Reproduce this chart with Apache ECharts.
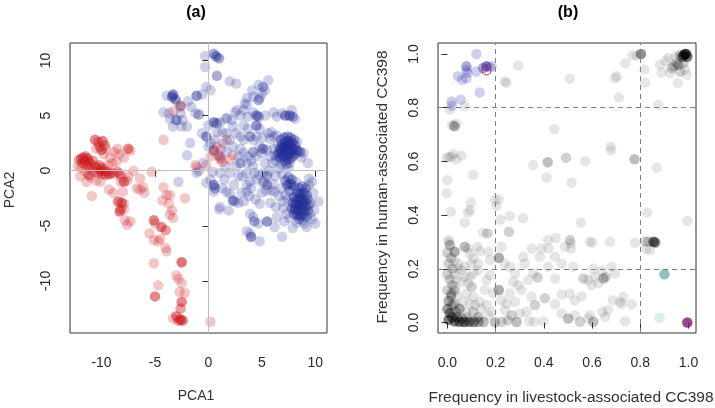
<!DOCTYPE html>
<html><head><meta charset="utf-8">
<script src="https://cdn.jsdelivr.net/npm/echarts@6/dist/echarts.min.js"></script>
<style>html,body{margin:0;padding:0;background:#fff}#c{width:715px;height:408px}</style>
</head><body><div id="c"></div>
<script>
// ---- data: [x, y, overlapCount] ----
var ticksAx = [-10, -5, 0, 5, 10];
var ticksAy = [-10, -5, 0, 5, 10];
var ticksB = [0, 0.2, 0.4, 0.6, 0.8, 1.0];
var refLinesB = [0.2, 0.8];

var redA = [
[-12.1,1.0,2],[-11.9,1.1,2],[-11.7,1.2,3],[-11.5,1.3,2],[-11.3,1.1,3],[-11.6,0.9,3],[-11.2,0.8,2],[-11.8,0.7,2],[-11.4,0.5,2],[-11.0,0.6,2],[-10.8,0.9,2],[-11.1,0.3,2],[-10.6,0.4,2],[-10.4,0.2,2],[-10.2,0.5,2],[-10.0,0.3,2],[-9.8,0.1,2],[-9.5,-0.1,2],[-9.3,-0.3,3],[-9.6,-0.4,2],[-9.9,-0.3,2],[-10.3,-0.2,2],[-10.7,-0.1,1],[-11.2,-0.4,3],[-11.0,-0.6,1],[-11.5,-0.1,1],[-12.2,0.4,1],[-11.9,0.3,1],[-9.0,-0.2,2],[-8.8,-0.3,1],[-8.5,-0.1,2],[-8.1,-0.6,1],[-7.9,-1.0,3],[-7.6,-0.9,1],[-10.6,2.8,3],[-10.3,2.6,2],[-9.9,2.7,3],[-9.7,2.3,2],[-10.2,2.2,2],[-10.0,1.9,3],[-9.6,2.0,1],[-10.5,2.0,1],[-9.8,1.5,1],[-9.2,1.2,1],[-8.8,1.7,1],[-8.5,2.0,1],[-8.3,1.5,1],[-7.5,2.0,3],[-7.3,1.8,1],[-7.9,1.2,1],[-8.6,0.8,1],[-9.0,0.7,1],[-9.4,0.5,1],[-7.0,0.0,1],[-6.4,-0.7,1],[-6.1,-1.5,1],[-6.0,-2.0,1],[-6.7,-1.6,1],[-6.4,-1.7,1],[-7.5,-0.5,1],[-8.2,-1.0,1],[-10.1,-1.0,1],[-10.5,-0.9,1],[-11.4,-1.0,1],[-12.0,-0.5,1],[-10.9,-2.3,1],[-9.3,-1.7,1],[-8.9,-2.0,1],[-8.0,-1.9,1],[-8.4,-2.8,2],[-8.1,-2.9,3],[-7.9,-3.0,1],[-8.3,-3.7,3],[-8.2,-3.5,2],[-7.9,-3.5,1],[-7.8,-4.5,1],[-7.3,-4.6,1],[-7.6,-4.9,1],[-8.5,-2.8,1],[-10.1,0.0,3],[-8.3,-0.3,2],
[-5.1,-4.5,3],[-5.0,-4.8,1],[-4.4,-5.1,3],[-4.0,-5.4,2],[-5.5,-5.7,1],[-5.1,-6.3,1],[-4.7,-6.4,1],[-4.5,-6.2,1],[-4.0,-7.0,1],[-3.9,-7.3,1],[-5.1,-8.4,1],[-4.7,-10.4,1],[-5.0,-11.4,3],[-4.2,-1.5,1],[-4.3,-2.7,1],[-3.9,-2.2,1],[-3.6,-2.2,1],[-3.7,-3.0,1],[-3.4,-3.6,1],[-3.3,-4.3,1],[-3.6,-4.0,1],[-2.2,-2.5,1],[-2.5,-8.3,4],[-3.0,-9.5,1],[-2.8,-9.8,1],[-2.5,-10.2,1],[-2.7,-11.0,1],[-2.2,-11.1,1],[-2.5,-11.9,3],[-2.6,-12.5,2],[-3.3,-13.4,1],[-3.0,-13.2,3],[-2.6,-13.5,4],[-2.4,-13.6,3],[-2.8,-13.6,2],[0.2,-13.7,1],[-5.3,-0.1,1],[-4.2,2.8,1],[-3.3,5.4,1],[-2.6,5.9,2],[-1.2,0.5,1],[-1.1,0.3,1],[-0.2,0.5,1],[0.2,1.3,1],[0.5,1.8,2],[0.8,2.2,1],[1.2,2.0,1],[1.1,1.1,2],[1.3,0.8,1],[1.7,2.8,1],[2.0,1.0,1],[2.3,1.4,1],[0.9,1.4,1]
];

var blueA = [
[-0.3,10.4,1],[0.5,10.6,2],[0.7,10.4,2],[1.0,10.2,2],[0.8,10.3,1],[-0.3,9.4,1],[0.8,8.6,2],[-0.2,7.6,1],[0.2,7.3,1],[2.0,8.1,1],[2.6,7.9,1],[5.6,8.2,1],[5.1,7.6,2],[4.7,7.8,1],[4.1,7.3,1],[4.2,6.7,1],[5.0,7.0,1],[5.3,7.3,1],[3.6,6.6,1],[3.4,6.1,1],[4.7,6.4,2],[4.8,6.6,1],
[-3.9,6.8,1],[-3.3,6.9,3],[-3.4,6.7,3],[-3.1,6.5,2],[-3.0,6.3,1],[-2.6,5.8,1],[-4.2,5.3,1],[-3.7,5.2,1],[-3.6,4.7,1],[-3.0,4.6,3],[-3.3,4.0,1],[-2.5,4.0,1],[-2.4,4.6,1],[-2.6,5.2,1],[-1.9,6.3,1],[-1.6,5.8,1],[-1.1,6.8,3],[-0.6,6.9,1],[-1.2,5.2,1],[-0.9,5.1,2],[-2.0,4.0,1],[-1.7,2.5,1],[-2.0,1.4,1],[-2.8,-1.0,1],[-1.1,-0.2,1],[-0.6,3.4,1],[-0.2,3.1,3],[0.0,4.1,1],[0.0,2.2,1],[0.2,-0.8,1],[-0.2,-1.1,1],[0.5,-1.3,3],[0.6,-1.6,2],[0.5,-1.9,1],[1.1,-0.2,1],[1.7,-1.9,1],[2.0,-2.1,1],[1.1,-3.3,1],[1.9,-3.6,1],[2.3,-2.7,3],[3.3,-2.8,1],[3.6,-1.9,1],[4.0,-1.6,1],[3.6,-1.3,1],[4.5,-0.8,1],[5.1,-1.1,1],[5.5,-1.3,2],[5.9,-1.8,1],[6.2,-1.9,1],[3.9,-3.9,1],[4.2,-4.2,1],[4.3,-4.6,2],[4.7,-4.8,1],[5.5,-4.6,3],[3.6,-5.5,1],[3.9,-5.7,1],[4.0,-6.0,3],[4.8,-6.4,1],[6.4,-4.2,1],[6.2,-5.1,1],[6.9,-6.0,1],[7.9,-5.2,1],[9.2,-5.1,1],[10.0,-4.8,1],[10.3,-2.8,1],[9.3,0.7,1],[9.7,-1.0,1],
[0.5,4.4,3],[0.8,4.3,2],[1.1,4.4,1],[1.7,4.7,1],[1.3,3.5,1],[1.7,3.4,1],[2.3,4.0,1],[2.5,5.3,1],[2.7,5.5,1],[3.0,5.0,1],[3.3,5.5,1],[3.6,6.0,1],[3.7,4.9,1],[4.2,5.3,1],[4.5,5.0,3],[4.7,4.9,2],[4.5,4.1,3],[4.8,3.8,1],[5.3,5.0,1],[6.1,5.3,1],[6.9,5.2,1],[7.2,5.0,3],[7.6,5.0,3],[7.9,4.9,2],[8.1,4.7,1],[7.8,5.5,1],[6.4,4.9,1],[2.0,2.8,1],[2.3,2.2,1],[2.6,3.4,1],[3.0,3.1,1],[3.3,2.8,1],[3.0,2.0,1],[3.3,1.6,1],[3.7,1.3,1],[2.8,1.3,1],[3.0,0.7,2],[2.6,0.4,1],[3.6,0.7,1],[4.2,0.4,1],[3.9,3.1,2],[4.2,2.8,1],[4.5,3.1,1],[4.8,2.2,1],[5.1,2.0,3],[5.5,1.9,1],[5.0,1.6,1],[5.8,1.3,1],[4.2,1.7,2],[4.5,1.3,1],[5.3,0.7,1],[5.6,3.4,1],[6.1,3.1,1],[5.1,3.0,1],[5.5,-0.4,1],[5.1,-0.2,1],[4.7,-0.4,1],[3.6,-0.2,1],[2.8,-0.5,1],[2.0,-0.2,1],[1.6,0.4,1],[1.7,1.7,1],[1.4,2.5,1],[0.6,2.8,1],[0.8,3.5,1],[0.2,2.5,1],[0.5,1.9,1],[1.7,4.8,1],[2.2,4.6,1],[3.3,4.1,1],[3.7,3.8,1],[1.1,1.3,1],
[6.8,2.8,2],[7.1,3.0,2],[7.4,3.1,2],[7.7,3.0,2],[8.0,2.8,2],[6.9,2.4,3],[7.2,2.6,3],[7.5,2.7,3],[7.8,2.5,3],[8.1,2.3,2],[6.7,2.0,3],[7.0,2.1,4],[7.3,2.2,4],[7.6,2.3,4],[7.9,2.0,3],[8.2,1.9,2],[6.6,1.6,3],[6.9,1.7,4],[7.2,1.8,4],[7.5,1.9,4],[7.8,1.7,3],[8.1,1.5,2],[6.7,1.2,3],[7.0,1.3,3],[7.3,1.4,3],[7.6,1.5,3],[7.9,1.3,2],[7.1,0.9,2],[7.4,1.0,2],[7.7,1.1,2],[7.3,0.6,2],[7.6,0.7,1],[7.5,0.3,1],[8.4,1.8,2],[8.6,1.7,2],[8.9,1.6,1],[8.7,1.2,1],[8.3,2.6,1],[6.5,2.3,1],[6.4,1.4,1],[6.3,0.9,1],[6.8,0.6,1],[6.6,0.2,1],
[7.2,-0.9,2],[7.5,-0.6,2],[7.8,-0.8,2],[7.4,-1.3,3],[7.7,-1.2,3],[8.0,-1.4,2],[7.6,-1.8,2],[8.2,-1.0,1],[8.5,-1.6,2],[8.8,-1.4,2],[9.1,-1.6,2],[8.3,-2.0,3],[8.6,-2.1,3],[8.9,-2.0,3],[9.2,-2.2,2],[8.0,-2.4,3],[8.4,-2.6,4],[8.7,-2.5,4],[9.0,-2.7,3],[9.3,-2.6,2],[7.9,-2.9,3],[8.2,-3.0,4],[8.5,-3.1,4],[8.8,-3.0,4],[9.1,-3.2,3],[9.4,-3.1,2],[7.8,-3.4,3],[8.1,-3.5,4],[8.4,-3.6,4],[8.7,-3.5,4],[9.0,-3.7,3],[9.3,-3.6,2],[8.0,-3.9,2],[8.3,-4.0,3],[8.6,-4.1,3],[8.9,-4.0,2],[9.2,-4.2,2],[8.5,-4.4,2],[8.8,-4.5,1],[9.5,-3.9,1],[9.6,-2.9,1],[9.4,-1.3,1],[7.3,-3.9,1],[7.6,-4.3,1],[7.0,-2.8,1],[7.2,-2.2,1],[7.4,-2.6,1],[6.9,-0.3,1],[6.8,-1.6,1],[6.6,-2.3,1],[7.0,-3.4,1],[7.1,-4.6,1],[9.0,-4.8,1],[8.3,-4.7,1],[9.7,-4.4,1],[9.9,-3.6,1],[9.8,-2.0,1],[9.4,-0.7,1],
[5.8,2.9,1],[6.1,2.0,1],[6.4,3.2,1],[5.9,3.5,1],[6.2,1.4,1],[6.0,0.7,1],[5.7,0.0,1],[6.3,-0.5,1],[5.5,-0.5,1],[5.2,-1.0,1],[6.0,-1.2,1],[5.0,-2.0,1],[5.4,-1.8,1],[5.8,-2.9,1],[6.3,-3.3,1],[4.8,-3.0,1],[4.4,-2.6,1],[3.8,-2.3,1],[3.1,-2.0,1],[3.9,-1.0,1],[4.3,-0.2,1],[4.0,0.9,1],[3.2,-0.5,1],[2.4,-1.3,1],[1.5,-0.8,1],[1.3,-1.6,1],[2.5,-2.8,1],[2.8,-2.9,1],[1.0,-3.5,1],[0.4,-0.1,1],[-0.5,0.7,1],[-0.9,0.0,1]
];

var greyB = [
[0.803,1.0,6],[0.785,0.994,1],[0.767,0.994,1],[0.99,1.0,10],[0.98,0.995,8],[0.995,0.99,8],[0.975,0.99,5],[0.985,1.0,8],[0.965,0.995,3],[0.917,0.985,1],[0.945,0.99,1],[0.958,0.96,3],[0.93,0.948,2],[0.924,0.93,1],[0.889,0.93,1],[0.882,0.96,1],[0.965,0.935,2],[0.979,0.966,2],[0.95,0.966,2],[0.94,0.955,2],[0.986,0.942,1],[0.993,0.923,1],[0.956,0.892,1],[0.905,0.975,1],[0.817,0.942,1],[0.82,0.894,1],[0.875,0.811,1],[0.737,0.966,1],[0.702,0.917,1],[0.695,0.91,1],[0.711,0.838,1],[0.294,0.957,1],[0.238,0.898,1],[0.245,0.893,1],[0.508,0.908,1],[0.072,0.805,1],[0.01,0.792,1],
[0.019,0.736,1],[0.028,0.733,2],[0.037,0.74,1],[0.03,0.73,2],[0.443,0.721,1],
[-0.003,0.614,1],[0.006,0.616,1],[0.017,0.618,1],[0.025,0.628,1],[0.037,0.608,1],[0.058,0.622,1],[0.356,0.587,1],[0.416,0.597,3],[0.492,0.614,2],[0.515,0.521,1],[0.571,0.601,1],[0.677,0.655,1],[0.679,0.641,1],[0.776,0.608,3],[0.868,0.577,1],[0.107,0.55,1],[0.411,0.54,1],
[0.0,0.53,1],[-0.003,0.481,1],[0.014,0.413,1],[0.093,0.419,1],[0.086,0.41,1],[0.097,0.447,1],[0.072,0.372,1],[0.197,0.456,1],[0.213,0.459,1],[0.204,0.434,1],[0.22,0.384,1],[0.259,0.397,1],[0.314,0.388,1],[0.554,0.372,1],[0.828,0.41,1],[0.995,0.378,1],
[0.006,0.307,1],[0.148,0.335,1],[0.166,0.332,2],[0.255,0.338,2],[0.418,0.307,1],[0.449,0.315,1],[0.508,0.307,2],[0.512,0.295,1],[0.591,0.301,1],[0.6,0.298,1],[0.674,0.301,1],[0.778,0.297,1],[0.82,0.302,2],[0.835,0.302,2],[0.855,0.301,8],[0.862,0.298,6],[0.825,0.275,1],[0.84,0.27,1],
[0.005,0.3,1],[0.01,0.289,3],[0.0,0.26,2],[0.015,0.24,2],[0.005,0.22,2],[0.02,0.2,2],[0.0,0.18,2],[0.01,0.16,2],[0.02,0.14,2],[0.0,0.12,2],[0.015,0.1,3],[0.005,0.08,4],[0.02,0.065,3],[0.0,0.05,5],[0.01,0.035,6],[0.02,0.02,6],[0.005,0.01,8],[0.03,0.005,8],[0.05,0.003,8],[0.07,0.002,8],[0.09,0.003,7],[0.11,0.002,6],[0.13,0.003,4],[0.15,0.002,3],[0.04,0.02,4],[0.06,0.015,3],[0.08,0.02,2],[0.035,0.04,3],[0.05,0.05,2],[0.03,0.07,2],[0.04,0.1,1],[0.03,0.12,2],[0.035,0.16,1],[0.045,0.2,1],[0.03,0.23,1],[0.03,0.264,4],
[0.072,0.282,3],[0.086,0.276,1],[0.093,0.257,1],[0.107,0.239,1],[0.125,0.282,1],[0.134,0.265,1],[0.169,0.264,1],[0.176,0.233,1],[0.127,0.22,1],[0.1,0.22,1],[0.072,0.208,1],[0.044,0.22,1],[0.072,0.17,1],[0.093,0.17,1],[0.058,0.152,1],[0.03,0.133,1],[0.017,0.108,2],
[0.197,0.001,3],[0.225,0.003,2],[0.25,0.008,2],[0.287,0.002,3],[0.339,0.005,1],[0.36,0.003,1],[0.398,0.005,1],[0.474,0.034,1],[0.501,0.015,3],[0.55,0.003,2],[0.605,0.003,3],[0.737,0.005,1],
[0.03,0.18,1],[0.058,0.195,1],[0.086,0.146,1],[0.1,0.133,2],[0.079,0.108,1],[0.107,0.096,1],[0.093,0.071,1],[0.114,0.065,1],[0.141,0.052,1],[0.162,0.065,1],[0.183,0.04,1],[0.134,0.077,1],[0.065,0.077,1],[0.051,0.052,2],[0.079,0.04,1],[0.107,0.04,2],[0.127,0.02,3],[0.169,0.027,1],[0.155,0.121,1],[0.162,0.158,1],[0.176,0.177,1],[0.127,0.195,1],[0.107,0.183,1],[0.19,0.11,1],
[0.213,0.241,4],[0.213,0.121,4],
[0.224,0.282,1],[0.238,0.22,1],[0.259,0.208,1],[0.28,0.183,1],[0.273,0.152,1],[0.294,0.139,1],[0.259,0.108,1],[0.224,0.083,1],[0.245,0.071,1],[0.28,0.077,1],[0.314,0.245,1],[0.321,0.22,1],[0.349,0.276,1],[0.39,0.276,1],[0.383,0.245,1],[0.356,0.183,1],[0.335,0.158,1],[0.374,0.168,2],[0.307,0.121,1],[0.349,0.096,1],[0.363,0.065,2],[0.328,0.04,1],[0.238,0.046,1],[0.266,0.027,2],[0.3,0.034,1],
[0.418,0.276,1],[0.446,0.245,1],[0.488,0.282,1],[0.512,0.276,1],[0.522,0.208,1],[0.474,0.22,1],[0.418,0.208,1],[0.446,0.164,1],[0.404,0.09,2],[0.446,0.068,1],[0.474,0.104,1],[0.508,0.108,1],[0.529,0.083,1],[0.557,0.098,1],[0.564,0.164,2],[0.584,0.158,1],[0.612,0.17,1],[0.598,0.139,1],[0.626,0.146,1],[0.647,0.164,3],[0.657,0.17,2],[0.64,0.193,1],[0.605,0.201,1],[0.529,0.027,1],[0.584,0.015,1],[0.591,0.027,1],[0.643,0.04,1],
[0.686,0.083,1],[0.716,0.077,1],[0.73,0.096,1],[0.723,0.07,1],[0.765,0.068,1],[0.681,0.208,1],[0.695,0.183,1],[0.666,0.046,1],[0.654,0.021,1]
];
var blueB = [[0.12,1.0,1],[0.079,0.954,2],[0.079,0.94,1],[0.044,0.917,1],[0.061,0.904,1],[0.079,0.91,1],[0.083,0.93,1],[0.12,0.935,1],[0.162,0.954,4],[0.148,0.948,2],[0.176,0.951,1],[0.183,0.954,1],[0.134,0.857,1],[0.055,0.83,1],[0.017,0.823,1],[0.019,0.807,1]];
var redRingB = [[0.162,0.939]];
var tealB = [[0.9,0.18]];
var cyanB = [[0.88,0.018]];
var purpleB = [[0.995,0.0]];

// ---- chart ----
function alphaColor(rgb, a) {
  return function (p) {
    var n = p.data[2] || 1;
    var o = 1 - Math.pow(1 - a, n);
    return 'rgba(' + rgb + ',' + o.toFixed(3) + ')';
  };
}
var FONT = 'Liberation Sans, Arial, sans-serif';
var axisCommon = function (ticks, fmt, rot) {
  return {
    type: 'value', splitLine: {show: false}, axisLine: {show: false},
    axisTick: {show: true, inside: false, length: 6, customValues: ticks, lineStyle: {color: '#333'}},
    axisLabel: {customValues: ticks, fontSize: 14, color: '#2a2a2a', fontFamily: FONT, margin: rot ? 17 : 23, rotate: rot || 0, formatter: fmt}
  };
};
function mk(o, extra) { for (var k in extra) o[k] = extra[k]; return o; }
var fmtA = function (v) { return String(v); };
var fmtB = function (v) { return v.toFixed(1); };

var chart = echarts.init(document.getElementById('c'), null, {renderer: 'canvas'});
var SYM = 10.5;
chart.setOption({
  animation: false,
  grid: [
    {left: 70, top: 43, width: 257, height: 290, show: true, borderColor: '#333', borderWidth: 1},
    {left: 438, top: 43, width: 258, height: 290, show: true, borderColor: '#333', borderWidth: 1}
  ],
  xAxis: [
    mk(axisCommon(ticksAx, fmtA), {gridIndex: 0, min: -12.95, max: 11.1}),
    mk(axisCommon(ticksB, fmtB), {gridIndex: 1, min: -0.039, max: 1.031})
  ],
  yAxis: [
    mk(axisCommon(ticksAy, fmtA, 90), {gridIndex: 0, min: -14.72, max: 11.58}),
    mk(axisCommon(ticksB, fmtB, 90), {gridIndex: 1, min: -0.039, max: 1.041})
  ],
  graphic: [
    {type: 'text', x: 196, y: 13, style: {text: '(a)', font: 'bold 16px ' + FONT, fill: '#000', textAlign: 'center', textVerticalAlign: 'middle'}},
    {type: 'text', x: 568, y: 13, style: {text: '(b)', font: 'bold 16px ' + FONT, fill: '#000', textAlign: 'center', textVerticalAlign: 'middle'}},
    {type: 'text', x: 196, y: 396, style: {text: 'PCA1', font: '14px ' + FONT, fill: '#333', textAlign: 'center', textVerticalAlign: 'middle'}},
    {type: 'text', x: 10, y: 190, rotation: Math.PI / 2, style: {text: 'PCA2', font: '14px ' + FONT, fill: '#333', textAlign: 'center', textVerticalAlign: 'middle'}},
    {type: 'text', x: 571, y: 398, style: {text: 'Frequency in livestock-associated CC398', font: '15.5px ' + FONT, fill: '#333', textAlign: 'center', textVerticalAlign: 'middle'}},
    {type: 'text', x: 383, y: 187, rotation: Math.PI / 2, style: {text: 'Frequency in human-associated CC398', font: '15.5px ' + FONT, fill: '#333', textAlign: 'center', textVerticalAlign: 'middle'}}
  ],
  series: [
    {type: 'scatter', xAxisIndex: 0, yAxisIndex: 0, data: [], silent: true,
      markLine: {silent: true, symbol: 'none', label: {show: false}, lineStyle: {color: '#c0c0c0', type: 'solid', width: 1},
        data: [{xAxis: 0}, {yAxis: 0}]}},
    {type: 'scatter', xAxisIndex: 0, yAxisIndex: 0, data: redA, symbolSize: SYM, itemStyle: {color: alphaColor('205,25,30', 0.3)}},
    {type: 'scatter', xAxisIndex: 0, yAxisIndex: 0, data: blueA, symbolSize: SYM, itemStyle: {color: alphaColor('35,45,150', 0.28)}},
    {type: 'scatter', xAxisIndex: 1, yAxisIndex: 1, data: [], silent: true,
      markLine: {silent: true, symbol: 'none', label: {show: false}, lineStyle: {color: '#808080', type: [5, 4], width: 1},
        data: refLinesB.map(function (v) { return {xAxis: v}; }).concat(refLinesB.map(function (v) { return {yAxis: v}; }))}},
    {type: 'scatter', xAxisIndex: 1, yAxisIndex: 1, data: greyB, symbolSize: SYM, itemStyle: {color: alphaColor('0,0,0', 0.12)}},
    {type: 'scatter', xAxisIndex: 1, yAxisIndex: 1, data: blueB, symbolSize: SYM, itemStyle: {color: alphaColor('40,40,170', 0.28)}},
    {type: 'scatter', xAxisIndex: 1, yAxisIndex: 1, data: tealB, symbolSize: SYM, itemStyle: {color: 'rgba(60,145,145,0.7)'}},
    {type: 'scatter', xAxisIndex: 1, yAxisIndex: 1, data: cyanB, symbolSize: SYM, itemStyle: {color: 'rgba(170,215,222,0.55)'}},
    {type: 'scatter', xAxisIndex: 1, yAxisIndex: 1, data: purpleB, symbolSize: SYM, itemStyle: {color: 'rgb(125,25,115)'}},
    {type: 'scatter', xAxisIndex: 1, yAxisIndex: 1, data: redRingB, symbolSize: SYM - 1.5, itemStyle: {color: 'rgba(0,0,0,0)', borderColor: '#e02020', borderWidth: 1.2}}
  ]
});
</script></body></html>
